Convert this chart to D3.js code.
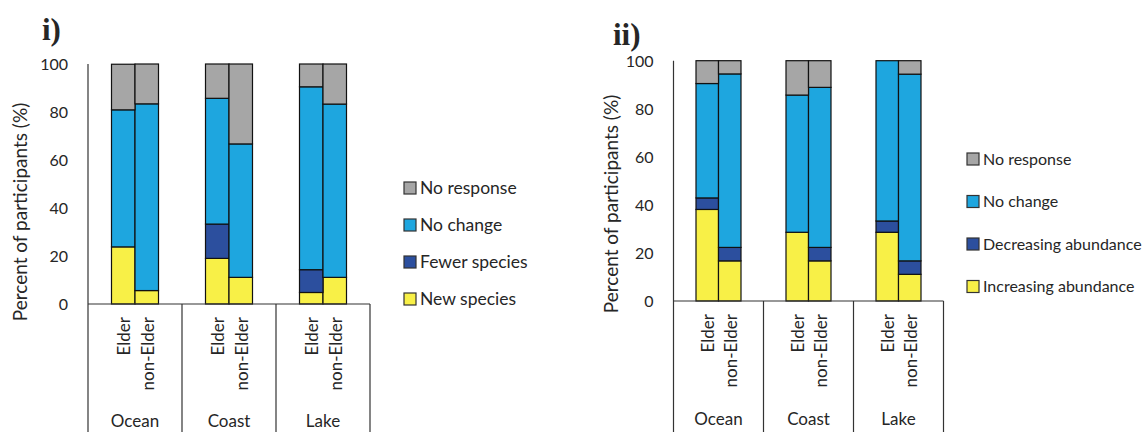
<!DOCTYPE html>
<html>
<head>
<meta charset="utf-8">
<script src="https://cdn.jsdelivr.net/npm/d3@7"></script>
<style>
  html, body { margin: 0; padding: 0; background: #fff; }
  svg { display: block; }
  text { font-family: Lato, "Open Sans", sans-serif; fill: #262626; }
</style>
</head>
<body>
<svg id="chart" width="1144" height="432"></svg>
<script>
// Sites and respondent groups
const sites = ["Ocean", "Coast", "Lake"];
const groups = ["Elder", "non-Elder"];
const yTicks = [0, 20, 40, 60, 80, 100];

// Panel i: change in species (percent of participants), order Ocean E, Ocean nE, Coast E, Coast nE, Lake E, Lake nE
const newSpecies    = [23.8, 5.6, 19.0, 11.1, 4.8, 11.1];
const fewerSpecies  = [0, 0, 14.3, 0, 9.5, 0];
const noChangeI     = [57.1, 77.8, 52.4, 55.6, 76.2, 72.2];
const noResponseI   = [19.0, 16.6, 14.3, 33.3, 9.5, 16.7];

// Panel ii: change in abundance
const increasingAbundance = [38.1, 16.7, 28.6, 16.7, 28.6, 11.1];
const decreasingAbundance = [4.8, 5.6, 0, 5.6, 4.7, 5.6];
const noChangeII          = [47.6, 72.2, 57.1, 66.6, 66.7, 77.7];
const noResponseII        = [9.5, 5.5, 14.3, 11.1, 0, 5.6];

const colors = ["#f8f047", "#2c4f9e", "#1ea6df", "#a6a6a6"];

const svg = d3.select("#chart");

function drawPanel(cfg) {
  const { x0, x1, yTop, yBottom, series, labels, tag, tagPos, yLabelX, yLabelY, legend } = cfg;

  // Build one row per bar from the series arrays
  const rows = [];
  sites.forEach((s, i) => groups.forEach((g, j) => {
    const k = i * groups.length + j;
    const r = { site: s, group: g };
    series.forEach((arr, m) => { r["s" + m] = arr[k]; });
    rows.push(r);
  }));
  const keys = series.map((_, m) => "s" + m);
  const stacked = d3.stack().keys(keys)(rows);

  const y = d3.scaleLinear().domain([0, 100]).range([yBottom, yTop]);
  const xSite = d3.scaleBand().domain(sites).range([x0, x1]).padding(0);
  const xGroup = d3.scaleBand().domain(groups).range([0, xSite.bandwidth()])
    .paddingInner(0).paddingOuter(1);

  const g = svg.append("g");

  // Stacked bars
  stacked.forEach((layer, m) => {
    g.append("g").selectAll("rect")
      .data(layer.filter(d => d[1] - d[0] > 0))
      .join("rect")
      .attr("x", d => xSite(d.data.site) + xGroup(d.data.group))
      .attr("width", xGroup.bandwidth())
      .attr("y", d => y(Math.min(100, d[1])))
      .attr("height", d => y(d[0]) - y(Math.min(100, d[1])))
      .attr("fill", colors[m])
      .attr("stroke", "#111")
      .attr("stroke-width", 1.2);
  });

  // Y axis: tick labels only (no tick marks)
  const yAxis = d3.axisLeft(y).tickValues(yTicks).tickSize(0).tickPadding(20);
  const ya = g.append("g").attr("transform", `translate(${x0},0)`).call(yAxis);
  ya.select(".domain").remove();
  ya.selectAll("text").style("font-size", "16px").attr("dy", "0.35em")
    .style("font-family", "Lato, sans-serif").attr("fill", "#262626");

  const lineColor = "#333";
  // Vertical axis line running down through the category frame
  g.append("line").attr("x1", x0).attr("x2", x0).attr("y1", yTop).attr("y2", 432)
    .attr("stroke", lineColor).attr("stroke-width", 1.2);
  // Baseline
  g.append("line").attr("x1", x0).attr("x2", x1).attr("y1", yBottom).attr("y2", yBottom)
    .attr("stroke", lineColor).attr("stroke-width", 1.2);
  // Site dividers below baseline
  sites.forEach(s => {
    const xe = xSite(s) + xSite.bandwidth();
    g.append("line").attr("x1", xe).attr("x2", xe).attr("y1", yBottom).attr("y2", 432)
      .attr("stroke", lineColor).attr("stroke-width", 1.2);
  });

  // Group labels, rotated
  sites.forEach(s => groups.forEach(gr => {
    const cx = xSite(s) + xGroup(gr) + xGroup.bandwidth() / 2;
    g.append("text")
      .attr("transform", `translate(${cx + 7},${yBottom + 13}) rotate(-90)`)
      .attr("text-anchor", "end")
      .style("font-size", "17px")
      .text(gr);
  }));

  // Site labels
  sites.forEach(s => {
    g.append("text")
      .attr("x", xSite(s) + xSite.bandwidth() / 2)
      .attr("y", cfg.siteLabelY)
      .attr("text-anchor", "middle")
      .style("font-size", "17px")
      .text(s);
  });

  // Y axis title
  g.append("text")
    .attr("transform", `translate(${yLabelX},${yLabelY}) rotate(-90)`)
    .attr("text-anchor", "middle")
    .style("font-size", "19px")
    .text("Percent of participants (%)");

  // Panel tag
  g.append("text")
    .attr("x", tagPos[0]).attr("y", tagPos[1])
    .style("font-family", "'Liberation Serif', serif")
    .style("font-weight", "bold")
    .style("font-size", "31px")
    .attr("fill", "#111")
    .text(tag);

  // Legend, top entry is the top of the stack
  const lg = g.append("g");
  const order = labels.map((l, m) => ({ l, m })).reverse();
  order.forEach((d, i) => {
    const cy = legend.y + i * legend.step;
    lg.append("rect")
      .attr("x", legend.x).attr("y", cy - legend.box / 2)
      .attr("width", legend.box).attr("height", legend.box)
      .attr("fill", colors[d.m]).attr("stroke", "#333").attr("stroke-width", 1.2);
    lg.append("text")
      .attr("x", legend.x + legend.box + 4).attr("y", cy)
      .attr("dy", "0.35em")
      .style("font-size", legend.font + "px")
      .text(d.l);
  });
}

drawPanel({
  x0: 88, x1: 370, yTop: 64, yBottom: 304,
  series: [newSpecies, fewerSpecies, noChangeI, noResponseI],
  labels: ["New species", "Fewer species", "No change", "No response"],
  tag: "i)", tagPos: [42, 40],
  yLabelX: 27, yLabelY: 212,
  siteLabelY: 427,
  legend: { x: 404, y: 188, step: 37, box: 12, font: 17.5 }
});

drawPanel({
  x0: 673.5, x1: 943.5, yTop: 60.7, yBottom: 301,
  series: [increasingAbundance, decreasingAbundance, noChangeII, noResponseII],
  labels: ["Increasing abundance", "Decreasing abundance", "No change", "No response"],
  tag: "ii)", tagPos: [613, 45],
  yLabelX: 618, yLabelY: 204,
  siteLabelY: 425,
  legend: { x: 967, y: 159, step: 42.5, box: 12, font: 16 }
});
</script>
</body>
</html>
